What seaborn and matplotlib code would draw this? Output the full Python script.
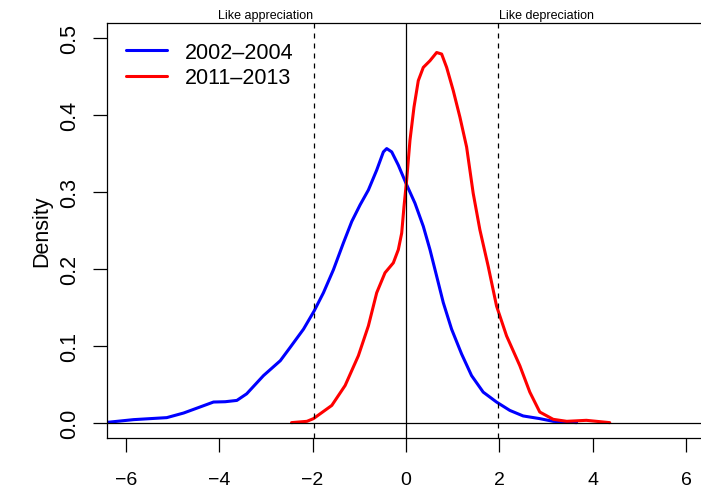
import numpy as np
import pandas as pd
import seaborn as sns
import matplotlib
matplotlib.use("Agg")
import matplotlib.pyplot as plt
import matplotlib.transforms as mtrans
from matplotlib.lines import Line2D

# density curves
blue_x = [-6.39, -5.83, -5.12, -4.76, -4.41, -4.12, -3.87, -3.62, -3.41, -3.05, -2.69,
          -2.479, -2.194, -1.966, -1.767, -1.553, -1.340, -1.161, -0.983, -0.805, -0.627,
          -0.484, -0.413, -0.306, -0.164, 0.0, 0.192, 0.371, 0.513, 0.656, 0.798, 0.976,
          1.190, 1.403, 1.652, 1.937, 2.222, 2.507, 2.863, 3.15, 3.65]
blue_y = [0.0004, 0.0039, 0.0065, 0.0125, 0.0203, 0.0268, 0.0272, 0.0289, 0.0375, 0.0612, 0.0806,
          0.0979, 0.1216, 0.1453, 0.169, 0.199, 0.2338, 0.2617, 0.2833, 0.3027, 0.3286,
          0.3523, 0.3566, 0.3523, 0.335, 0.3114, 0.2855, 0.2553, 0.2251, 0.1906, 0.1561, 0.1216,
          0.0893, 0.0612, 0.0397, 0.0268, 0.0159, 0.0087, 0.0052, 0.0017, 0.0]
red_x = [-2.45, -2.12, -1.981, -1.588, -1.303, -1.019, -0.805, -0.627, -0.449, -0.271, -0.164,
         -0.092, -0.043, 0.014, 0.085, 0.171, 0.263, 0.370, 0.513, 0.656, 0.763, 0.870, 1.011,
         1.154, 1.297, 1.438, 1.581, 1.759, 1.938, 2.152, 2.436, 2.650, 2.863, 3.15, 3.44,
         3.86, 4.36]
red_y = [0.0, 0.0017, 0.0052, 0.0224, 0.0483, 0.0871, 0.1259, 0.169, 0.195, 0.2079, 0.2251,
         0.2467, 0.2811, 0.3157, 0.3674, 0.4105, 0.445, 0.4622, 0.4709, 0.4816, 0.4796, 0.4622, 0.4321,
         0.3975, 0.3587, 0.2985, 0.251, 0.2035, 0.1517, 0.1129, 0.0741, 0.0397, 0.0138, 0.0043, 0.0017,
         0.003, 0.0]
labels = ["2002\u20132004", "2011\u20132013"]
colors = ["#0000FF", "#FF0000"]
x_ticks = [-6, -4, -2, 0, 2, 4, 6]
y_ticks = [0.0, 0.1, 0.2, 0.3, 0.4, 0.5]
crit = 1.96

sns.set_style("ticks")
plt.rcParams['font.family'] = ['Liberation Sans', 'DejaVu Sans']
plt.rcParams['axes.unicode_minus'] = True
for k in ['text.color', 'axes.labelcolor', 'xtick.color', 'ytick.color', 'axes.edgecolor']:
    plt.rcParams[k] = 'black'
fs = 15.5

fig = plt.figure(figsize=(7.01, 4.89), dpi=100)
ax = fig.add_axes([106.5 / 701, 50 / 489, 599 / 701, 415 / 489])

df_b = pd.DataFrame({"x": blue_x, "y": blue_y})
df_r = pd.DataFrame({"x": red_x, "y": red_y})
kw = dict(lw=2.2, sort=False, estimator=None, ax=ax, solid_joinstyle="round", solid_capstyle="round")
sns.lineplot(data=df_b, x="x", y="y", color=colors[0], **kw)
sns.lineplot(data=df_r, x="x", y="y", color=colors[1], **kw)

ax.axhline(0, color="black", lw=0.9)
ax.axvline(0, color="black", lw=0.9)
for c in [-crit, crit]:
    ax.axvline(c, color="black", lw=0.9, linestyle=(0, (4, 4)))

ax.set_xlim(-6.41, 6.41)
ax.set_ylim(-0.02, 0.52)
ax.set_xticks(x_ticks)
ax.set_xticklabels([("\u2212%d" % -t) if t < 0 else str(t) for t in x_ticks])
ax.set_yticks(y_ticks)
ax.set_yticklabels(["%.1f" % t for t in y_ticks], rotation=90, va="center")
ax.tick_params(axis="both", length=10, width=0.9, color="black", labelcolor="black")
ax.tick_params(axis="x", labelsize=14, pad=14)
ax.tick_params(axis="y", labelsize=fs, pad=9)
for s in ax.spines.values():
    s.set_linewidth(0.9)
    s.set_color("black")
ax.set_xlabel("")
ax.set_ylabel("Density", fontsize=fs, labelpad=5, color="black")

tr = mtrans.blended_transform_factory(ax.transData, fig.transFigure)
ax.text(-3, 1 - 16 / 489, "Like appreciation", transform=tr, ha="center", va="center", fontsize=9)
ax.text(3, 1 - 16 / 489, "Like depreciation", transform=tr, ha="center", va="center", fontsize=9)

handles = [Line2D([], [], color=colors[0], lw=2.2), Line2D([], [], color=colors[1], lw=2.2)]
fig.legend(handles, labels, loc="upper left", bbox_to_anchor=(125.7 / 701, 1 - 42.5 / 489),
           bbox_transform=fig.transFigure, frameon=False, fontsize=fs, borderpad=0,
           borderaxespad=0, handlelength=1.9, handletextpad=0.85, labelspacing=0.22)

fig.savefig("out.png", dpi=100)
